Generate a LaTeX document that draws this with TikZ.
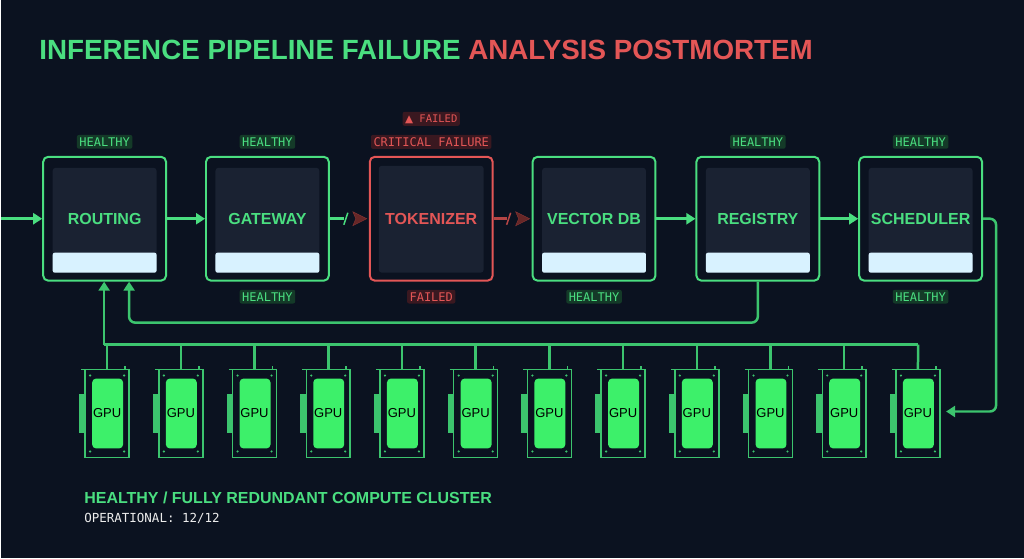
\documentclass[tikz,border=0pt]{standalone}
\usepackage{fontspec}
\setmainfont{Liberation Sans}
\newfontfamily\mono{DejaVu Sans Mono}
\newfontfamily\sym{DejaVu Sans}
\usetikzlibrary{arrows.meta}
\definecolor{bg}{HTML}{0B1220}
\definecolor{grn}{HTML}{4ADE80}
\definecolor{dgrn}{HTML}{3CC46E}
\definecolor{red}{HTML}{E35656}
\definecolor{panel}{HTML}{1A2232}
\definecolor{tagg}{HTML}{143A28}
\definecolor{tagr}{HTML}{3A1820}
\definecolor{gpu}{HTML}{3DF06A}
\definecolor{glow}{HTML}{D8F2FF}
\tikzset{x=1pt,y=-1pt,
 svc/.style={draw=grn,line width=2pt,rounded corners=5pt,fill=bg,minimum width=123pt,minimum height=124pt},
 svclbl/.style={text=grn,font=\bfseries\fontsize{16}{16}\selectfont},
 tag/.style={fill=tagg,text=grn,font=\mono\fontsize{12}{12}\selectfont,inner sep=2.5pt,rounded corners=2pt},
 rtag/.style={tag,fill=tagr,text=red},
 conn/.style={draw=grn,line width=2.5pt,-{Triangle[length=9pt,width=11pt]}},
 bus/.style={draw=dgrn,line width=2.5pt}
}
\begin{document}
\begin{tikzpicture}
\fill[bg] (0,0) rectangle (1024,559);
\node[anchor=west,font=\bfseries\fontsize{27.8}{28}\selectfont,inner sep=0] (title) at (38,50) {\textcolor{grn}{INFERENCE PIPELINE FAILURE} \textcolor{red}{ANALYSIS POSTMORTEM}};
% services
\foreach \n/\x/\t in {r/103.5/ROUTING,g/266.5/GATEWAY,v/593.5/VECTOR DB,reg/757.5/REGISTRY,s/920.5/SCHEDULER}{
 \node[svc] (\n) at (\x,219) {};
 \fill[panel,rounded corners=3pt] (\x-52,168) rectangle (\x+52,273);
 \fill[glow,rounded corners=2pt] (\x-52,253) rectangle (\x+52,273);
 \node[svclbl] (\n l) at (\x,219) {\t};
}
\foreach \n in {r,g,reg,s} \node[tag] (\n a) at (\n.north |- 0,142) {HEALTHY};
\foreach \n in {g,v,s} \node[tag] (\n b) at (\n.south |- 0,297) {HEALTHY};
\node[svc,draw=red] (t) at (430.5,219) {};
\fill[panel,rounded corners=3pt] (378,166) rectangle (483,273);
\node[svclbl,text=red] (tl) at (430.5,219) {TOKENIZER};
\node[rtag] (ta) at (430.5,142) {CRITICAL FAILURE};
\node[rtag,font=\mono\fontsize{10.5}{10.5}\selectfont] (tf) at (430.5,119) {{\sym ▲} FAILED};
\node[rtag] (tb) at (430.5,297) {FAILED};
% connectors
\coordinate (in) at (0,219);
\draw[conn] (in) -- (r.west);
\draw[conn] (r.east) -- (g.west);
\draw[conn] (reg.east) -- (s.west);
\draw[conn] (v.east) -- (reg.west);
\coordinate (gx) at (343,219);
\coordinate (tx) at (506,219);
\draw[line width=2.5pt,draw=grn] (g.east) -- (gx);
\draw[line width=1.5pt,draw=grn] (343,225) -- (347,213);
\draw[line width=2.5pt,draw=red!80!black] (t.east) -- (tx);
\draw[line width=1.5pt,draw=red!80!black] (506,225) -- (510,213);
\fill[red!45!black,draw=red!60!black] (352,212) -- (366,219) -- (352,226) -- (355,219) -- cycle;
\fill[red!45!black,draw=red!60!black] (515,212) -- (529,219) -- (515,226) -- (518,219) -- cycle;
% GPUs
\foreach \i in {1,...,12}{
 \pgfmathsetmacro\gx{106+73.8*(\i-1)}
 \begin{scope}[shift={(\gx,414)}]
  \draw[dgrn,line width=1.5pt] (-22,-44) rectangle (22,44);
  \draw[dgrn,line width=1.5pt] (-26,-44) -- (-22,-44) (18,-44) -- (18,-48);
  \fill[dgrn] (-28,-20) rectangle (-22,20);
  \fill[gpu,rounded corners=4pt] (-15,-35) rectangle (16,35);
  \foreach \px/\py in {-17/-38,17/-38,-17/38,17/38} \fill[dgrn] (\px,\py) circle (1.2);
  \node[font=\fontsize{13}{13}\selectfont,text=black] (gpu\i) at (0,0) {GPU};
  \coordinate (gt\i) at (0,-44);
 \end{scope}
}
% bus
\coordinate (bl) at (103,345);
\coordinate (br) at (918,345);
\draw[bus] (bl) -- (br);
\foreach \i in {2,...,11}{\draw[bus] (gt\i) -- (gt\i |- br);}
\draw[bus] (br) -- (gt12);
\draw[bus] (gt1 |- bl) -- (gt1);
\draw[conn,draw=dgrn] (bl) -- (r.south -| bl);
% registry loop
\coordinate (rl) at (128,323);
\draw[conn,draw=dgrn,rounded corners=6pt] (reg.south) |- (rl) -- (r.south -| rl);
% scheduler to last gpu
\coordinate (sr) at (996,219);
\coordinate (ge) at (946,412);
\draw[conn,draw=dgrn,rounded corners=6pt] (s.east) -- (sr) |- (ge);
% footer
\node[anchor=west,inner sep=0,text=grn,font=\bfseries\fontsize{16}{16}\selectfont] (f1) at (83,498) {HEALTHY / FULLY REDUNDANT COMPUTE CLUSTER};
\node[anchor=west,inner sep=0,text=white!85!gray,font=\mono\fontsize{12.5}{12.5}\selectfont] (f2) at (83,519) {OPERATIONAL: 12/12};
\end{tikzpicture}
\end{document}
